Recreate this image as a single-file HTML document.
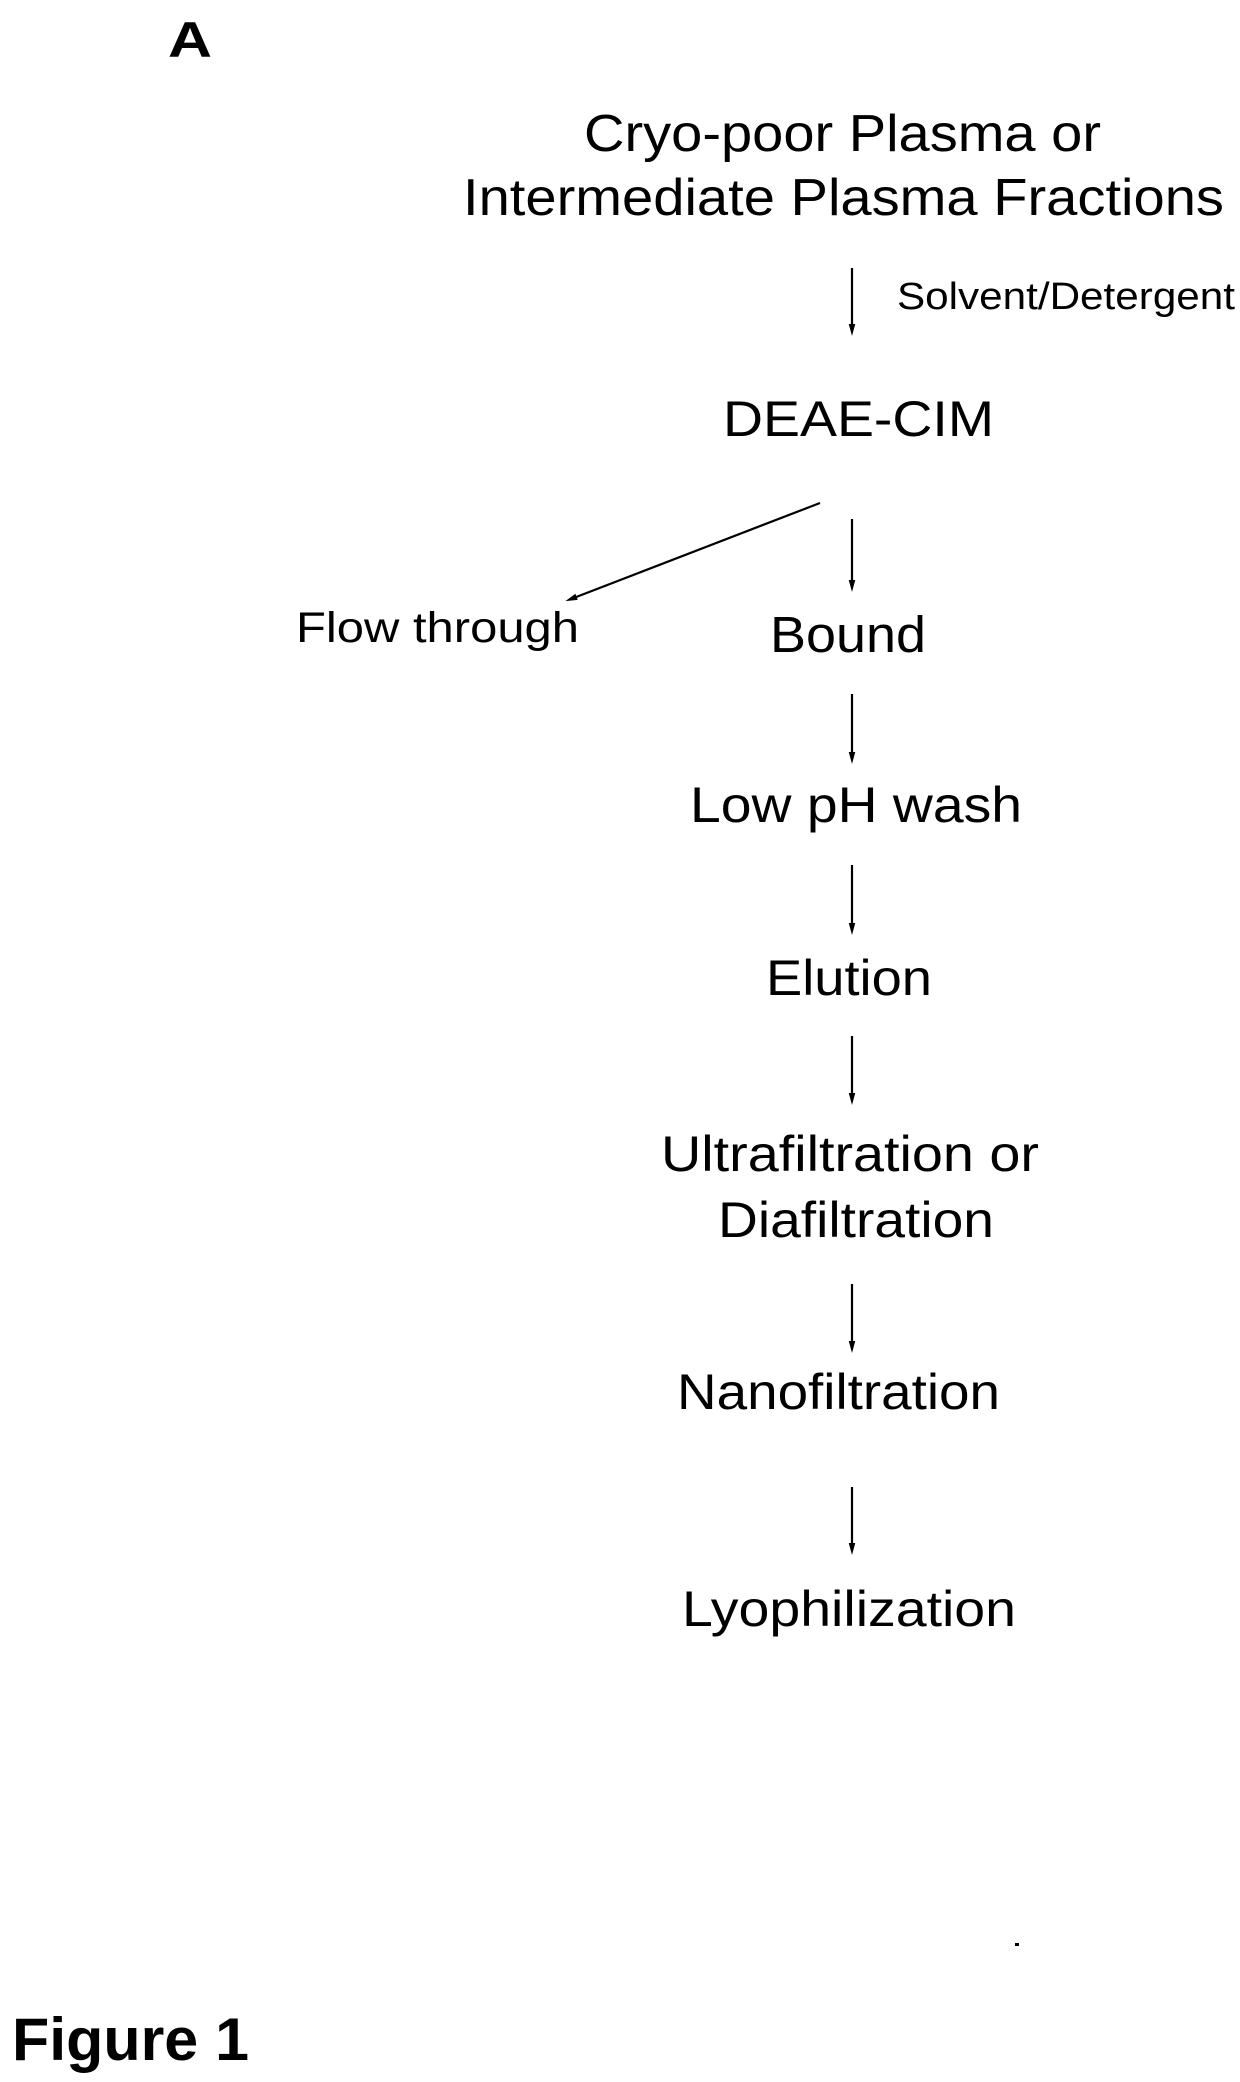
<!DOCTYPE html>
<html><head><meta charset="utf-8"><style>html,body{margin:0;padding:0;background:#fff}svg{display:block}</style></head>
<body>
<svg width="1240" height="2082" viewBox="0 0 1240 2082" xmlns="http://www.w3.org/2000/svg" font-family="Liberation Sans, Arial, sans-serif" fill="#000">
<defs><marker id="ah" markerWidth="12" markerHeight="22" refX="11" refY="6" orient="auto" markerUnits="userSpaceOnUse" viewBox="0 0 22 12"><path d="M0,0 L22,6 L0,12 z"/></marker></defs>
<text x="168" y="57" font-size="50" font-weight="bold" textLength="44" lengthAdjust="spacingAndGlyphs">A</text>
<text x="584" y="151" font-size="52" textLength="517" lengthAdjust="spacingAndGlyphs">Cryo-poor Plasma or</text>
<text x="463" y="215" font-size="52" textLength="761" lengthAdjust="spacingAndGlyphs">Intermediate Plasma Fractions</text>
<g stroke="#000" stroke-width="2.2">
<line x1="852" y1="268" x2="852" y2="330" marker-end="url(#ah)"/>
<line x1="820" y1="503" x2="571" y2="599" marker-end="url(#ah)"/>
<line x1="852" y1="519" x2="852" y2="586" marker-end="url(#ah)"/>
<line x1="852" y1="694" x2="852" y2="758" marker-end="url(#ah)"/>
<line x1="852" y1="865" x2="852" y2="929" marker-end="url(#ah)"/>
<line x1="852" y1="1036" x2="852" y2="1099" marker-end="url(#ah)"/>
<line x1="852" y1="1284" x2="852" y2="1347" marker-end="url(#ah)"/>
<line x1="852" y1="1487" x2="852" y2="1549" marker-end="url(#ah)"/>
</g>
<text x="897" y="309" font-size="38" textLength="338" lengthAdjust="spacingAndGlyphs">Solvent/Detergent</text>
<text x="723" y="436" font-size="50" textLength="271" lengthAdjust="spacingAndGlyphs">DEAE-CIM</text>
<text x="296" y="642" font-size="43" textLength="283" lengthAdjust="spacingAndGlyphs">Flow through</text>
<text x="770" y="652" font-size="51" textLength="156" lengthAdjust="spacingAndGlyphs">Bound</text>
<text x="690" y="822" font-size="50" textLength="332" lengthAdjust="spacingAndGlyphs">Low pH wash</text>
<text x="766" y="995" font-size="50" textLength="166" lengthAdjust="spacingAndGlyphs">Elution</text>
<text x="661" y="1171" font-size="50" textLength="378" lengthAdjust="spacingAndGlyphs">Ultrafiltration or</text>
<text x="718" y="1237" font-size="50" textLength="276" lengthAdjust="spacingAndGlyphs">Diafiltration</text>
<text x="677" y="1409" font-size="50" textLength="323" lengthAdjust="spacingAndGlyphs">Nanofiltration</text>
<text x="682" y="1626" font-size="50" textLength="334" lengthAdjust="spacingAndGlyphs">Lyophilization</text>
<rect x="1015" y="1943" width="4" height="3"/>
<text x="12" y="2060" font-size="60" font-weight="bold" textLength="237" lengthAdjust="spacingAndGlyphs">Figure 1</text>
</svg>
</body></html>
